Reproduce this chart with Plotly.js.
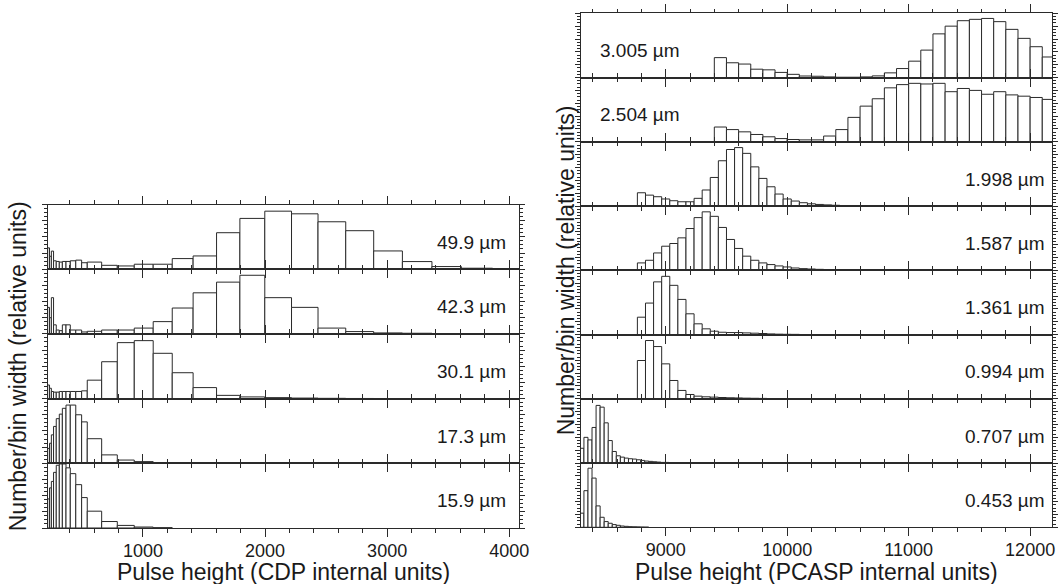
<!DOCTYPE html>
<html>
<head>
<meta charset="utf-8">
<script src="https://cdn.plot.ly/plotly-3.0.1.min.js"></script>
<style>html,body{margin:0;padding:0;background:#fff;}#chart{width:1060px;height:584px;}</style>
</head>
<body>
<div id="chart"></div>
<script>
// ---------- CDP (left panel) ----------
const cdpEdges = [220, 235, 250, 268, 290, 315, 340, 370, 405, 450, 498, 544, 662, 790, 929, 1084, 1240, 1411, 1603, 1794, 1998, 2217, 2434, 2661, 2890, 3125, 3367, 3608, 3864, 4095];
const cdpLabels = ["49.9 µm", "42.3 µm", "30.1 µm", "17.3 µm", "15.9 µm"];
const cdp499 = [0.33, 0.20, 0.28, 0.13, 0.12, 0.11, 0.12, 0.12, 0.13, 0.14, 0.10, 0.11, 0.06, 0.05, 0.077, 0.077, 0.164, 0.205, 0.564, 0.785, 0.897, 0.856, 0.733, 0.595, 0.282, 0.118, 0.041, 0.015, 0.01];
const cdp423 = [0.41, 0.25, 0.56, 0.14, 0.06, 0.05, 0.14, 0.14, 0.06, 0.06, 0.03, 0.04, 0.06, 0.06, 0.09, 0.19, 0.40, 0.635, 0.80, 0.906, 0.56, 0.41, 0.09, 0.036, 0.015, 0.01, 0.005, 0.003, 0.002];
const cdp301 = [0.21, 0.16, 0.11, 0.10, 0.10, 0.11, 0.11, 0.11, 0.11, 0.11, 0.12, 0.285, 0.57, 0.865, 0.896, 0.70, 0.40, 0.17, 0.05, 0.026, 0.015, 0.008, 0.004, 0.002];
const cdp173 = [0.23, 0.31, 0.44, 0.57, 0.69, 0.76, 0.85, 0.90, 0.90, 0.75, 0.64, 0.38, 0.13, 0.05, 0.026, 0.01, 0.004];
const cdp159 = [0.45, 0.62, 0.72, 0.86, 0.97, 0.99, 0.99, 0.93, 0.84, 0.67, 0.47, 0.26, 0.10, 0.04, 0.015, 0.005];
const cdpSeries = [cdp499, cdp423, cdp301, cdp173, cdp159];
const cdpTickVals = [1000, 2000, 3000, 4000];
const cdpTickText = ["1000", "2000", "3000", "4000"];

// ---------- PCASP (right panel) ----------
const pcaspLabels = ["3.005 µm", "2.504 µm", "1.998 µm", "1.587 µm", "1.361 µm", "0.994 µm", "0.707 µm", "0.453 µm"];
const pcaspBinStart = [9400, 9400, 8766.7, 8766.7, 8766.7, 8766.7, 8293.3, 8293.3];
const pcaspBinWidth = [100, 100, 66.67, 66.67, 66.67, 66.67, 33.33, 33.33];
const p3005 = [0.31, 0.23, 0.21, 0.13, 0.12, 0.08, 0.05, 0.024, 0.02, 0.01, 0.005, 0.005, 0.01, 0.026, 0.073, 0.14, 0.255, 0.427, 0.68, 0.80, 0.885, 0.906, 0.92, 0.87, 0.75, 0.61, 0.48, 0.32];
const p2504 = [0.23, 0.19, 0.155, 0.114, 0.078, 0.05, 0.036, 0.03, 0.03, 0.09, 0.19, 0.38, 0.555, 0.67, 0.84, 0.89, 0.91, 0.90, 0.91, 0.78, 0.83, 0.80, 0.74, 0.78, 0.73, 0.71, 0.69, 0.66];
const p1998 = [0.207, 0.17, 0.145, 0.11, 0.083, 0.067, 0.067, 0.12, 0.25, 0.445, 0.705, 0.88, 0.91, 0.82, 0.61, 0.43, 0.30, 0.187, 0.11, 0.078, 0.052, 0.035, 0.025, 0.018, 0.012, 0.008, 0.005, 0.003];
const p1587 = [0.115, 0.156, 0.27, 0.375, 0.417, 0.505, 0.65, 0.82, 0.91, 0.84, 0.667, 0.48, 0.34, 0.22, 0.156, 0.115, 0.089, 0.068, 0.052, 0.036, 0.026, 0.02, 0.015, 0.011, 0.008, 0.005, 0.003, 0.002];
const p1361 = [0.27, 0.49, 0.82, 0.906, 0.766, 0.547, 0.323, 0.167, 0.089, 0.052, 0.036, 0.031, 0.031, 0.026, 0.021, 0.016, 0.01, 0.006, 0.004, 0.003];
const p0994 = [0.596, 0.907, 0.813, 0.544, 0.285, 0.13, 0.067, 0.041, 0.031, 0.026, 0.02, 0.016, 0.013, 0.01, 0.008, 0.006, 0.004, 0.003];
const p0707 = [0.23, 0.40, 0.36, 0.554, 0.897, 0.87, 0.626, 0.35, 0.18, 0.113, 0.092, 0.077, 0.067, 0.062, 0.051, 0.041, 0.031, 0.026, 0.02, 0.015, 0.01, 0.01, 0.005];
const p0453 = [0.22, 0.57, 0.92, 0.766, 0.333, 0.156, 0.089, 0.0625, 0.042, 0.031, 0.02, 0.015, 0.01, 0.008, 0.006, 0.004, 0.003];
const pcaspSeries = [p3005, p2504, p1998, p1587, p1361, p0994, p0707, p0453];
const pcaspTickVals = [9000, 10000, 11000, 12000];
const pcaspTickText = ["9000", "10000", "11000", "12000"];

const xTitleLeft = "Pulse height (CDP internal units)";
const xTitleRight = "Pulse height (PCASP internal units)";
const yTitle = "Number/bin width (relative units)";

// ---------- build ----------
const W = 1060, H = 584;
const FONT = "Liberation Sans, Arial, Helvetica, sans-serif";
const LINE = "#2a2a2a";
const TXT = "#1a1a1a";
const traces = [];
const layout = {
  width: W, height: H,
  margin: {l: 0, r: 0, t: 0, b: 0},
  paper_bgcolor: "#fff", plot_bgcolor: "#fff",
  showlegend: false,
  font: {family: FONT, color: TXT, size: 18},
  annotations: []
};

function xAxisDef(domain, range, anchor, showLabels, tickvals, ticktext) {
  return {
    domain: domain, range: range, anchor: anchor,
    showline: true, linecolor: LINE, linewidth: 1, mirror: "ticks",
    ticks: "outside", ticklen: 8, tickwidth: 1, tickcolor: LINE,
    tickmode: "array", tickvals: tickvals, ticktext: ticktext,
    ticklabelstandoff: -2,
    minor: {dtick: 200, tick0: 0, ticks: "outside", ticklen: 3.5, tickcolor: LINE, tickwidth: 1, showgrid: false},
    showgrid: false, zeroline: false,
    showticklabels: showLabels,
    tickfont: {family: FONT, size: 18, color: TXT}
  };
}
function yAxisDef(domain, anchor, dtick, mdtick) {
  return {
    domain: domain, range: [0, 1], anchor: anchor,
    showline: true, linecolor: LINE, linewidth: 1, mirror: "ticks",
    ticks: "outside", ticklen: 5, tickwidth: 1, tickcolor: LINE,
    dtick: dtick, tick0: 0,
    minor: {dtick: mdtick, tick0: 0, ticks: "outside", ticklen: 2.5, tickcolor: LINE, tickwidth: 1, showgrid: false},
    showgrid: false, zeroline: false, showticklabels: false
  };
}
function addBars(idx, centers, widths, vals) {
  traces.push({
    type: "bar", x: centers, y: vals, width: widths,
    xaxis: "x" + idx, yaxis: "y" + idx,
    marker: {color: "#ffffff", line: {color: LINE, width: 1}},
    hoverinfo: "x+y"
  });
}

// panel geometry (pixels)
const Lx0 = 47.7, Lx1 = 519, Ltop = 204.5, Lh = 64.7;
const Rx0 = 580.7, Rx1 = 1052, Rtop = 13.3, Rh = 64.25;

cdpSeries.forEach((vals, i) => {
  const idx = i + 1;
  const top = Ltop + i * Lh, bot = top + Lh;
  const ax = idx === 1 ? "" : idx;
  layout["xaxis" + ax] = xAxisDef([Lx0 / W, Lx1 / W], [220, 4080], "y" + idx, i === cdpSeries.length - 1, cdpTickVals, cdpTickText);
  layout["yaxis" + ax] = yAxisDef([1 - bot / H, 1 - top / H], "x" + idx, 0.25, 0.0625);
  const centers = vals.map((v, k) => (cdpEdges[k] + cdpEdges[k + 1]) / 2);
  const widths = vals.map((v, k) => cdpEdges[k + 1] - cdpEdges[k]);
  addBars(idx, centers, widths, vals);
  layout.annotations.push({
    xref: "x" + idx + " domain", yref: "y" + idx + " domain",
    x: 0.977, y: 0.42, xanchor: "right", yanchor: "middle",
    text: cdpLabels[i], showarrow: false, font: {family: FONT, size: 19, color: TXT}
  });
});

pcaspSeries.forEach((vals, j) => {
  const idx = j + 6;
  const top = Rtop + j * Rh, bot = top + Rh;
  layout["xaxis" + idx] = xAxisDef([Rx0 / W, Rx1 / W], [8300, 12180], "y" + idx, j === pcaspSeries.length - 1, pcaspTickVals, pcaspTickText);
  layout["yaxis" + idx] = yAxisDef([1 - bot / H, 1 - top / H], "x" + idx, 0.2, 0.05);
  const w = pcaspBinWidth[j], s = pcaspBinStart[j];
  const centers = vals.map((v, k) => s + w * (k + 0.5));
  const widths = vals.map(() => w);
  addBars(idx, centers, widths, vals);
  const leftSide = j < 2;
  layout.annotations.push({
    xref: "x" + idx + " domain", yref: "y" + idx + " domain",
    x: leftSide ? 0.037 : 0.989, y: 0.42, xanchor: leftSide ? "left" : "right", yanchor: "middle",
    text: pcaspLabels[j], showarrow: false, font: {family: FONT, size: 19, color: TXT}
  });
});

// axis titles
layout.annotations.push(
  {xref: "paper", yref: "paper", x: ((Lx0 + Lx1) / 2) / W, y: 1 - 572 / H, xanchor: "center", yanchor: "middle",
   text: xTitleLeft, showarrow: false, font: {family: FONT, size: 23, color: TXT}},
  {xref: "paper", yref: "paper", x: ((Rx0 + Rx1) / 2) / W, y: 1 - 572 / H, xanchor: "center", yanchor: "middle",
   text: xTitleRight, showarrow: false, font: {family: FONT, size: 23, color: TXT}},
  {xref: "paper", yref: "paper", x: 18 / W, y: 1 - ((Ltop + Ltop + 5 * Lh) / 2) / H, xanchor: "center", yanchor: "middle",
   text: yTitle, textangle: -90, showarrow: false, font: {family: FONT, size: 23, color: TXT}},
  {xref: "paper", yref: "paper", x: 566 / W, y: 1 - ((Rtop + Rtop + 8 * Rh) / 2) / H, xanchor: "center", yanchor: "middle",
   text: yTitle, textangle: -90, showarrow: false, font: {family: FONT, size: 23, color: TXT}}
);

Plotly.newPlot("chart", traces, layout, {displayModeBar: false, staticPlot: true});
</script>
</body>
</html>
